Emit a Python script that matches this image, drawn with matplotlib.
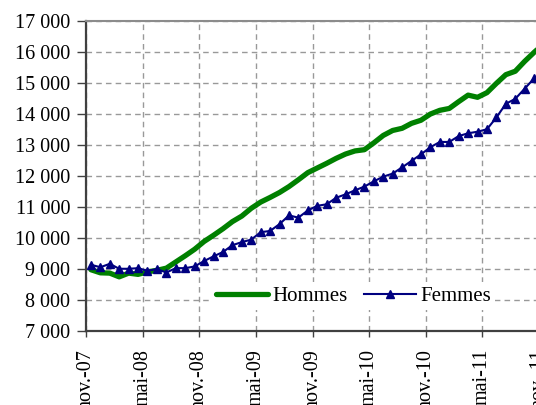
import numpy as np
import matplotlib
matplotlib.use("Agg")
import matplotlib.pyplot as plt

plt.rcParams['font.family'] = ['Liberation Serif', 'DejaVu Serif']

# monthly values, nov-07 onwards
hommes = [8970, 8870, 8860, 8740, 8860, 8820, 8900, 8950, 9020, 9220,
          9420, 9630, 9880, 10080, 10290, 10520, 10700, 10950, 11150, 11300,
          11460, 11650, 11870, 12100, 12250, 12400, 12560, 12700, 12800, 12840,
          13060, 13300, 13460, 13530, 13690, 13790, 13990, 14110, 14170, 14390,
          14600, 14530, 14680, 14980, 15260, 15370, 15690, 15980, 16250]
femmes = [9130, 9050, 9160, 9000, 9000, 9020, 8935, 8990, 8880, 9020,
          9020, 9075, 9250, 9400, 9540, 9760, 9860, 9940, 10180, 10220,
          10440, 10720, 10650, 10880, 11030, 11080, 11290, 11400, 11530, 11650,
          11820, 11970, 12070, 12270, 12480, 12690, 12920, 13090, 13090, 13280,
          13370, 13420, 13500, 13880, 14320, 14480, 14810, 15140, 15350]
xlabels = ['nov.-07', 'mai-08', 'nov.-08', 'mai-09', 'nov.-09',
           'mai-10', 'nov.-10', 'mai-11', 'nov.-11']
yticks = list(range(7000, 17001, 1000))

fig = plt.figure(figsize=(5.36, 4.05), dpi=100)
# plot area runs past the right edge of the picture, as in the original crop
ax = fig.add_axes([86.2 / 536, 74.2 / 405, 471.5 / 536, 310.1 / 405])

x = np.arange(len(hommes)) + 0.5
ax.plot(x, hommes, color='#008000', lw=3.8, solid_capstyle='round',
        label='Hommes', zorder=3)
ax.plot(x, femmes, color='#000080', lw=1.5, marker='^', ms=5.5,
        label='Femmes', zorder=4)

ax.set_xlim(0, 50)
ax.set_ylim(7000, 17000)
ax.set_xticks(range(0, 6 * len(xlabels), 6))
ax.set_xticklabels(xlabels, rotation=90, fontsize=14.5)
ax.set_yticks(yticks)
ax.set_yticklabels([f"{v:,}".replace(',', ' ') for v in yticks], fontsize=14.5)

ax.grid(True, color='#999999', lw=1, linestyle=(0, (4, 3)))
ax.set_axisbelow(True)
for s in ['left', 'bottom']:
    ax.spines[s].set_color('#404040')
    ax.spines[s].set_linewidth(1.6)
ax.spines['top'].set_color('#8c8c8c')
ax.spines['top'].set_linewidth(1.5)
ax.spines['right'].set_visible(False)
ax.tick_params(axis='y', direction='out', length=6.5, width=1, color='#404040', pad=5)
ax.tick_params(axis='x', direction='out', length=4, width=1, color='#404040', pad=9)

leg = ax.legend(loc='center', bbox_to_anchor=(0.567, 0.112), ncol=2,
                fontsize=15, frameon=True, fancybox=False, handlelength=2.5,
                handletextpad=0.2, columnspacing=0.8, borderpad=0.2,
                numpoints=1)
leg.get_frame().set_facecolor('white')
leg.get_frame().set_edgecolor('none')
leg.get_frame().set_alpha(1)

fig.savefig('out.png', dpi=100)
